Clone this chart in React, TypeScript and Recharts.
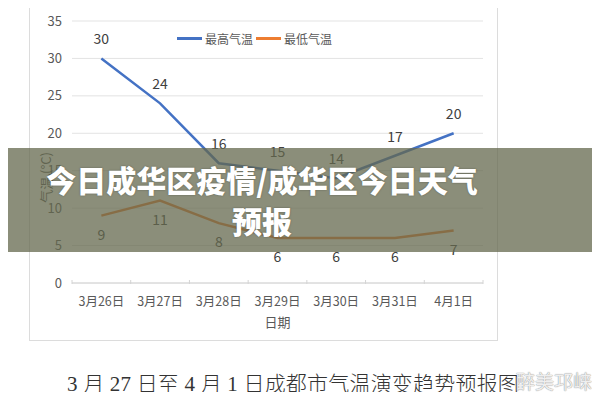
import { LineChart, Line, XAxis, YAxis, CartesianGrid, LabelList } from 'recharts'

const dates = ['3月26日', '3月27日', '3月28日', '3月29日', '3月30日', '3月31日', '4月1日']
const highTemps = [30, 24, 16, 15, 14, 17, 20]
const lowTemps = [9, 11, 8, 6, 6, 6, 7]
const yTicks = [0, 5, 10, 15, 20, 25, 30, 35]

const data = dates.map((d, i) => ({ date: d, high: highTemps[i], low: lowTemps[i] }))

const BLUE = '#4472c4'
const ORANGE = '#ed7d31'
const GRID = '#e3e3e3'
const TEXT = '#595959'

const PLOT_LEFT = 72
const PLOT_RIGHT = 483
const AXIS_Y = 283
const BAND = (PLOT_RIGHT - PLOT_LEFT) / dates.length

const DateTick = ({ x, payload, index }: any) => (
  <g>
    <line x1={x - BAND / 2} x2={x - BAND / 2} y1={AXIS_Y - 3} y2={AXIS_Y + 1} stroke="#d4d4d4" />
    {index === dates.length - 1 && (
      <line x1={x + BAND / 2} x2={x + BAND / 2} y1={AXIS_Y - 3} y2={AXIS_Y + 1} stroke="#d4d4d4" />
    )}
    <text x={x} y={AXIS_Y + 23} textAnchor="middle" fontSize={12.5} fill={TEXT}>
      {payload.value}
    </text>
  </g>
)

const LegendItem = ({ color, text }: { color: string; text: string }) => (
  <span style={{ display: 'inline-flex', alignItems: 'center', marginRight: 3 }}>
    <span style={{ width: 25, height: 3, background: color, display: 'inline-block', marginRight: 3 }} />
    <span>{text}</span>
  </span>
)

export default function App() {
  return (
    <div
      style={{
        position: 'relative',
        width: 600,
        height: 400,
        margin: -8,
        background: '#fff',
        overflow: 'hidden',
        fontFamily: '"Noto Sans CJK SC", "Noto Sans", sans-serif',
      }}
    >
      {/* chart frame */}
      <div
        style={{
          position: 'absolute',
          left: 29,
          top: 2,
          width: 467,
          height: 337,
          border: '1px solid #dcdcdc',
        }}
      />
      <div style={{ position: 'absolute', left: 0, top: 0 }}>
        <LineChart
          width={600}
          height={400}
          data={data}
          margin={{ top: 21, right: 600 - PLOT_RIGHT, left: 42, bottom: 400 - AXIS_Y - 50 }}
          style={{ fontFamily: '"Noto Sans CJK SC", "Noto Sans", sans-serif' }}
        >
          <CartesianGrid vertical={false} stroke={GRID} />
          <XAxis
            dataKey="date"
            height={50}
            padding={{ left: BAND / 2, right: BAND / 2 }}
            axisLine={{ stroke: '#d4d4d4' }}
            tickLine={false}
            tick={<DateTick />}
            interval={0}
            label={{ value: '日期', position: 'insideBottom', offset: 6, fill: TEXT, fontSize: 13 }}
          />
          <YAxis
            width={30}
            domain={[0, 35]}
            ticks={yTicks}
            axisLine={false}
            tickLine={false}
            tickMargin={4}
            tick={{ fill: TEXT, fontSize: 13 }}
            label={{ value: '气温 (°C)', angle: -90, position: 'left', offset: -4, fill: TEXT, fontSize: 13 }}
          />
          <Line
            type="linear"
            dataKey="high"
            stroke={BLUE}
            strokeWidth={2.5}
            dot={false}
            isAnimationActive={false}
          >
            <LabelList dataKey="high" position="top" offset={14} fill="#404040" fontSize={14} />
          </Line>
          <Line
            type="linear"
            dataKey="low"
            stroke={ORANGE}
            strokeWidth={2.5}
            dot={false}
            isAnimationActive={false}
          >
            <LabelList dataKey="low" position="bottom" offset={14} fill="#404040" fontSize={14} />
          </Line>
        </LineChart>
      </div>
      {/* legend */}
      <div
        style={{
          position: 'absolute',
          left: 177,
          top: 26,
          fontSize: 12,
          color: TEXT,
          whiteSpace: 'nowrap',
        }}
      >
        <LegendItem color={BLUE} text="最高气温" />
        <LegendItem color={ORANGE} text="最低气温" />
      </div>
      {/* title banner */}
      <div
        style={{
          position: 'absolute',
          left: 0,
          top: 148,
          width: 600,
          height: 104,
          background: 'rgba(100,104,78,0.75)',
        }}
      />
      <div
        style={{
          position: 'absolute',
          left: 36,
          top: 159,
          width: 452,
          textAlign: 'center',
          color: '#fff',
          fontSize: 30,
          fontWeight: 900,
          lineHeight: '41px',
          textShadow: '0 0 2px rgba(0,0,0,0.35)',
        }}
      >
        今日成华区疫情/成华区今日天气预报
      </div>
      {/* caption */}
      <div
        style={{
          position: 'absolute',
          left: 67,
          top: 367,
          fontSize: 21,
          letterSpacing: 0.2,
          color: '#333',
          whiteSpace: 'nowrap',
          fontFamily: '"Liberation Serif", "Noto Sans CJK SC", serif',
          fontWeight: 300,
        }}
      >
        3 月 27 日至 4 月 1 日成都市气温演变趋势预报图
      </div>
      {/* watermark */}
      <div
        style={{
          position: 'absolute',
          left: 516,
          top: 367,
          fontSize: 19,
          color: 'rgba(255,255,255,0.85)',
          textShadow: '0 0 1px #999, 0 0 1px #999',
          whiteSpace: 'nowrap',
        }}
      >
        醉美邛崃
      </div>
    </div>
  )
}
